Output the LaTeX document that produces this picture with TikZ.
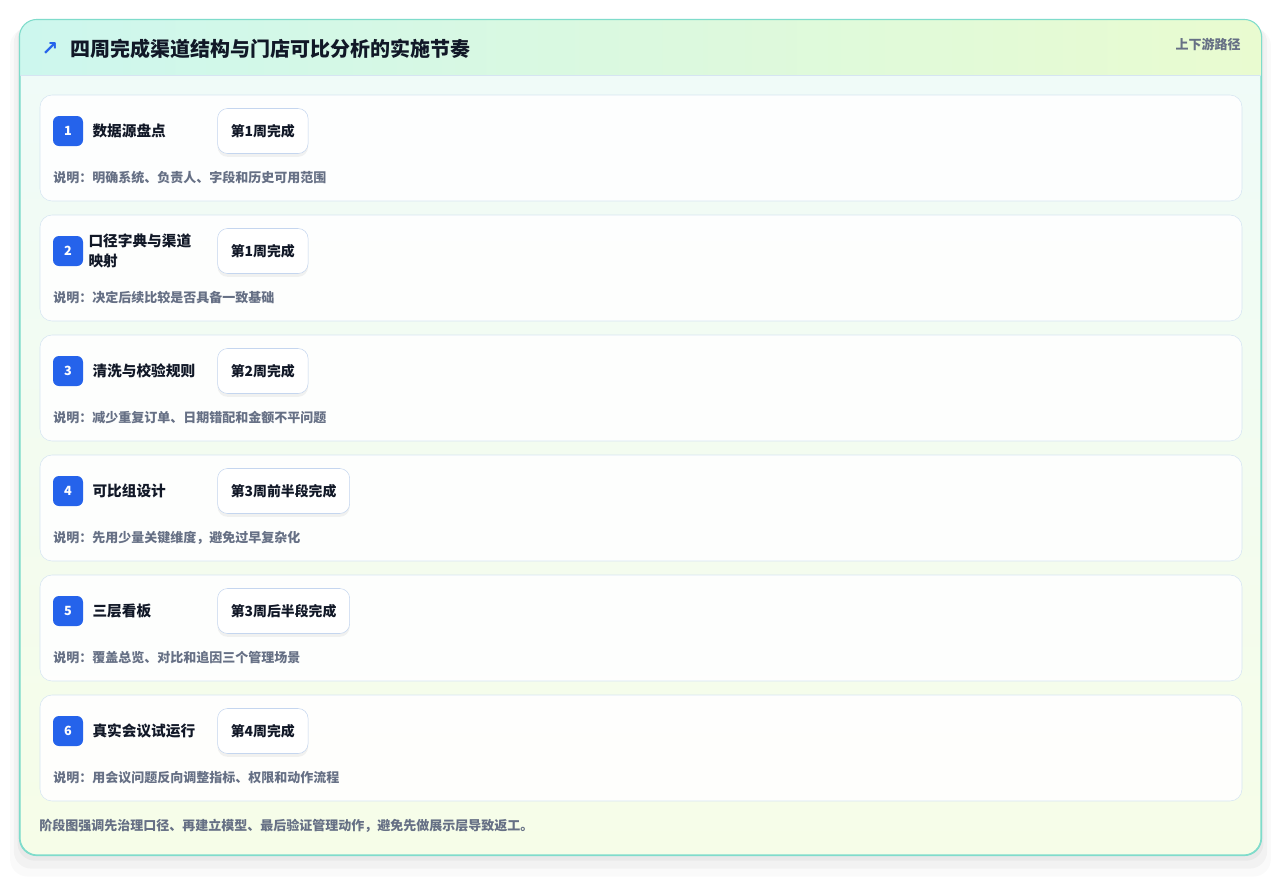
\documentclass[tikz,border=0pt]{standalone}
\usepackage{fontspec}
\setmainfont{Noto Sans CJK SC}
\newfontfamily\symfont{DejaVu Sans}
\usetikzlibrary{positioning, shadows}
\definecolor{cardline}{HTML}{7FDCCB}
\definecolor{headleft}{HTML}{CDF7EE}
\definecolor{headright}{HTML}{E9FBD0}
\definecolor{bodytop}{HTML}{EFFBF9}
\definecolor{bodybottom}{HTML}{F6FDE8}
\definecolor{rowline}{HTML}{D6E5F2}
\definecolor{badgeblue}{HTML}{2563EB}
\definecolor{inkdark}{HTML}{111827}
\definecolor{mutedgray}{HTML}{667085}
\definecolor{pillline}{HTML}{C5D6EF}

\begin{document}
\begin{tikzpicture} [%
    x = 0.75pt,
    y = -0.75pt,
    font = \bfseries,
    card/.style = {%
      draw = cardline,
      line width = 0.8pt,
      rounded corners = 13pt,
      top color = bodytop,
      bottom color = bodybottom,
      minimum width = 930.75pt,
      minimum height = 626.25pt,
      drop shadow = {shadow xshift = 0pt, shadow yshift = -3pt,
        shadow scale = 1.004, opacity = 0.035, fill = black},
      drop shadow = {shadow xshift = 0pt, shadow yshift = -7pt,
        shadow scale = 1.01, opacity = 0.03, fill = black},
      drop shadow = {shadow xshift = 0pt, shadow yshift = -11pt,
        shadow scale = 1.016, opacity = 0.02, fill = black} },
    row/.style = {%
      draw = rowline,
      fill = white,
      fill opacity = 0.9,
      rounded corners = 9pt,
      minimum width = 901.5pt,
      minimum height = 79.5pt },
    badge/.style = {%
      fill = badgeblue,
      text = white,
      rounded corners = 4.5pt,
      minimum size = 22.5pt,
      inner sep = 0pt,
      font = \bfseries\fontsize{9.5}{10}\selectfont },
    steptitle/.style = {%
      text = inkdark,
      inner sep = 0pt,
      align = left,
      font = \bfseries\fontsize{11}{15}\selectfont },
    week/.style = {%
      draw = pillline,
      fill = white,
      text = inkdark,
      rounded corners = 7.5pt,
      minimum height = 33.75pt,
      inner xsep = 10pt,
      font = \bfseries\fontsize{10.4}{12}\selectfont,
      drop shadow = {shadow xshift = 0pt, shadow yshift = -2.5pt,
        opacity = 0.05, fill = black} },
    note/.style = {%
      anchor = west,
      text = mutedgray,
      inner sep = 0pt,
      font = \bfseries\fontsize{9.75}{11}\selectfont }
  ]

  \fill[white] (0,0) rectangle (1282,876);
  \useasboundingbox (0,0) rectangle (1282,876);

  % card and header band
  \node[card] (card) at (640.5,437.5) {};
  \begin{scope}
    \clip[rounded corners = 13pt] (card.north west) rectangle (card.south east);
    \shade[left color = headleft, right color = headright]
      (card.north west) rectangle (1262,75);
  \end{scope}
  \coordinate (HL) at (20,75);
  \coordinate (HR) at (1261,75);
  \draw[rowline] (HL) -- (HR);
  \draw[cardline, line width = 0.8pt, rounded corners = 13pt]
    (card.north west) rectangle (card.south east);

  \node[text = badgeblue, font = \symfont\bfseries\fontsize{15}{15}\selectfont] (icon) at (50,49) {↗};
  \node[anchor = west, text = inkdark, font = \bfseries\fontsize{15}{18}\selectfont]
    (title) at (66,49) {四周完成渠道结构与门店可比分析的实施节奏};
  \node[anchor = east, text = mutedgray, inner sep = 0pt, font = \bfseries\fontsize{9.75}{11}\selectfont]
    (tag) at (1241,44) {上下游路径};

  % step 1
  \node[row] (R1) at (641,148) {};
  \node[badge] (B1) at (68,131) {1};
  \node[steptitle, right = 6.75pt of B1] (T1) {数据源盘点};
  \node[week, right = 100.5pt of B1] (W1) {第1周完成};
  \node[note] (N1) at (53,178) {说明：明确系统、负责人、字段和历史可用范围};

  % step 2
  \node[row] (R2) at (641,268) {};
  \node[badge] (B2) at (68,251) {2};
  \node[steptitle, right = 3.75pt of B2] (T2) {口径字典与渠道\\映射};
  \node[week, right = 100.5pt of B2] (W2) {第1周完成};
  \node[note] (N2) at (53,298) {说明：决定后续比较是否具备一致基础};

  % step 3
  \node[row] (R3) at (641,388) {};
  \node[badge] (B3) at (68,371) {3};
  \node[steptitle, right = 6.75pt of B3] (T3) {清洗与校验规则};
  \node[week, right = 100.5pt of B3] (W3) {第2周完成};
  \node[note] (N3) at (53,418) {说明：减少重复订单、日期错配和金额不平问题};

  % step 4
  \node[row] (R4) at (641,508) {};
  \node[badge] (B4) at (68,491) {4};
  \node[steptitle, right = 6.75pt of B4] (T4) {可比组设计};
  \node[week, right = 100.5pt of B4] (W4) {第3周前半段完成};
  \node[note] (N4) at (53,538) {说明：先用少量关键维度，避免过早复杂化};

  % step 5
  \node[row] (R5) at (641,628) {};
  \node[badge] (B5) at (68,611) {5};
  \node[steptitle, right = 6.75pt of B5] (T5) {三层看板};
  \node[week, right = 100.5pt of B5] (W5) {第3周后半段完成};
  \node[note] (N5) at (53,658) {说明：覆盖总览、对比和追因三个管理场景};

  % step 6
  \node[row] (R6) at (641,748) {};
  \node[badge] (B6) at (68,731) {6};
  \node[steptitle, right = 6.75pt of B6] (T6) {真实会议试运行};
  \node[week, right = 100.5pt of B6] (W6) {第4周完成};
  \node[note] (N6) at (53,778) {说明：用会议问题反向调整指标、权限和动作流程};

  \node[note] (foot) at (39,826) {阶段图强调先治理口径、再建立模型、最后验证管理动作，避免先做展示层导致返工。};

\end{tikzpicture}
\end{document}
